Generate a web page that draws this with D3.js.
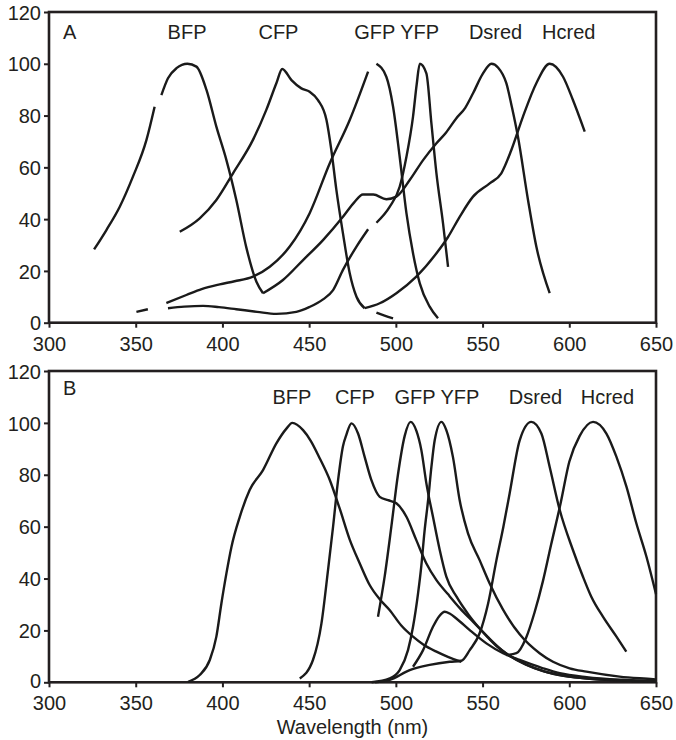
<!DOCTYPE html>
<html>
<head>
<meta charset="utf-8">
<script src="https://cdn.jsdelivr.net/npm/d3@7"></script>
<style>
  body { margin: 0; background: #fff; }
  svg text { font-family: "Liberation Sans", Arial, Helvetica, sans-serif; font-size: 20px; fill: #231f20; }
</style>
</head>
<body>
<div id="chart"></div>
<script>
// Panel A (excitation) - [wavelength nm, relative %], null = gap in trace
const bfpA = [[326,28.3],[333.1,35.8],[340.8,44.8],[348.4,56.4],[356.2,70.6],[360.9,83.4], null,
  [364.8,87.9],[368.6,94.4],[373.5,98.3],[379.8,100],[385,98.9],[390.8,89.9],[396.5,75.7],[402.3,62.8],
  [408,47.4],[413.8,29],[419.6,15.8],[423.4,11.4]];
const cfpA = [[375.4,35.1],[386.9,40.3],[396.5,47.4],[406.1,57.7],[417.6,70.6],[425.3,82.2],[431.1,92.5],
  [434.5,98],[439.8,93.7],[445.5,90.5],[450.3,89.2],[455.1,86],[460,78.3],[462.8,66.7],[465.7,51.3],
  [469.5,34.5],[473.4,19.1],[477.3,10],[482,5.6], null, [488.8,3.9],[493.5,2.7],[498.4,1.7]];
const gfpA = [[367.7,7.6],[379.2,10.7],[388,13],[398.4,14.8],[407,16],[417.6,17.8],[427.3,21.6],
  [438.8,29.4],[450.3,42.3],[461.9,61.6],[473.4,78.3],[484,97], null,
  [488.8,100],[494.5,95],[498.4,83.4],[502.2,64.1],[506.1,42.3],[509.9,26.8],[513.8,15.2],[519.5,6.2],[524.3,1.7]];
const yfpA = [[350.4,4.2],[357,5.2], null,
  [368.6,5.6],[378,6.2],[388.8,6.5],[398,6],[408,5.2],[420,4.2],[431.1,3.4],[442.6,4.2],[450,6],
  [458,9],[463.8,12.6],[469.5,20.4],[477.3,29.4],[484,36.1], null,
  [488.8,38.6],[496.5,44.8],[502.2,52.5],[506.1,64.1],[509.9,79.6],[512,92],[513.8,100],[517.6,96.3],
  [520.5,77],[523.4,57.7],[527.2,38.4],[530.1,21.6]];
const dsredA = [[423.4,11.4],[434.9,16.5],[446.5,24.2],[458,31.9],[469.5,40.9],[476,46.5],[481,49.5],
  [487,49.5],[494.5,47.7],[500.3,48.7],[508,55.1],[515.7,62.8],[523.4,69.3],[529,73.5],[534.9,79],
  [540,83],[544.5,88.6],[550,96],[555.1,100],[559,98.5],[563.7,92.5],[567,83],[570.4,71.8],
  [576.2,47.4],[581,29.4],[588.7,11.4]];
const hcredA = [[482,5.6],[490.7,7.5],[500.3,11.4],[511.8,17.8],[523.4,26.8],[530,33],[536.8,40.9],
  [544.5,48.7],[554.1,53.8],[560.8,57.7],[566.6,66.7],[573.3,79.6],[581,92.5],[588.7,100],[596.4,95],
  [602.1,86],[608.9,73.8]];

// Panel B (emission)
const bfpB = [[380.2,0.2],[386.9,2.8],[392.7,8.6],[396.5,17.6],[399.4,30.4],[402.3,42],[405.2,52.2],
  [410,63.8],[415.7,74.1],[423.4,81.8],[431.1,92.1],[436.9,97.8],[440.3,100],[446.5,97.2],[451,93],
  [456,86.5],[461.9,78],[467.6,67],[473.4,55],[479.2,45.8],[484.9,37.5],[490.7,32],[496.5,27.8],
  [503,22],[509.9,17.6],[516,14.5],[523.4,11.8],[530,9.8],[537.8,7.9]];
const cfpB = [[444.6,1.5],[452.2,8.6],[457.1,22.7],[460.9,43.3],[463.8,60],[466.7,78],[469.5,91],
  [471.5,95.5],[474.4,99.8],[478.2,95.9],[482,86.9],[485.9,77.9],[490.7,71.5],[495.5,70.2],[500.3,69],
  [506.1,63.8],[511.8,54.8],[517.6,45.8],[523.4,39.4],[530,34],[537,28.5],[545,23],[553,17.5],
  [561,12.5],[570,8.5],[580,5.5],[590,3.4],[600,2.2],[615,1.2],[632,0.7],[650,0.4]];
const gfpB = [[489.7,25.3],[493.6,41],[497.4,60],[501.2,80],[505.1,95],[508.5,100.4],[511.8,97],
  [514.7,89.5],[517.6,76.7],[521.4,63.8],[525.3,51],[529.1,40.7],[535,33],[542,26],[550,19.5],
  [558,14],[566,10],[575,6.8],[585,4.3],[597,2.5],[612,1.3],[630,0.7],[650,0.3]];
const yfpB = [[486,0],[496.5,1.5],[502.2,4.7],[507,12.4],[509.9,21.4],[512.8,34.3],[514.7,45],
  [516.5,58],[518.6,70.2],[520.5,83],[522.4,93.3],[526.3,100.4],[529.1,97.2],[532.9,86.9],[536.8,70.2],
  [541.6,57.4],[548.3,47.1],[554.1,38.1],[561.8,28],[571.4,18.5],[582.9,11.2],[590.6,7.9],[600.2,5.4],
  [609.9,4.1],[629,2.2],[648.3,1.2],[650,1.1]];
const humpB = [[509.9,6],[515.7,12.4],[521.4,21.4],[525,25.5],[528.2,27.2],[531,26.5],[534.9,24.6],
  [542.6,20.1],[552.2,15],[561.8,11.2],[571.4,8.6],[584.8,5.4],[594.5,3.5],[610,2],[630,1],[650,0.5]];
const dsredB = [[488,0],[496.5,0.9],[508,4.7],[519.5,6.7],[531.1,7.9],[537.8,8.3],[542.6,12.4],
  [548.3,18.9],[553.2,30.4],[558,47.1],[562,60],[565.6,72.8],[571.4,93.3],[578.1,100.4],[583.9,95.9],
  [588.7,83],[594.5,66.4],[602.1,51],[607.9,40.7],[612.7,33],[619.4,25.3],[627.2,17.6],[632.9,11.8]];
const hcredB = [[563.7,10.5],[569.5,11.2],[575,17],[580,27],[584.8,39],[589.5,53],[595,69],[600,85],
  [606,95],[613.7,100.4],[621.4,95.9],[627.2,86.9],[633,75.3],[638.7,61.2],[644.5,48.4],[650,34]];

const xTicks = [300, 350, 400, 450, 500, 550, 600, 650];
const yTicks = [0, 20, 40, 60, 80, 100, 120];
const names = ["BFP", "CFP", "GFP YFP", "Dsred", "Hcred"];

const width = 676, height = 740;
const svg = d3.select("#chart").append("svg")
  .attr("width", width)
  .attr("height", height);

const x = d3.scaleLinear().domain([300, 650]).range([49, 656]);

function drawPanel(opts) {
  const y = d3.scaleLinear().domain([0, 120]).range([opts.bottom, opts.top]);
  const g = svg.append("g");

  // y axis
  g.append("g")
    .attr("transform", `translate(${x(300)},0)`)
    .call(d3.axisLeft(y).tickValues(yTicks).tickSize(5).tickPadding(3))
    .call(a => a.select(".domain").remove())
    .call(a => a.selectAll("line").attr("stroke", "#231f20").attr("stroke-width", 2))
    .call(a => a.selectAll("text").attr("dy", d => d === 0 ? opts.zeroDy : "0.36em"));

  // x axis
  g.append("g")
    .attr("transform", `translate(0,${opts.bottom})`)
    .call(d3.axisBottom(x).tickValues(xTicks).tickSize(5).tickPadding(opts.xPad))
    .call(a => a.select(".domain").remove())
    .call(a => a.selectAll("line").attr("stroke", "#231f20").attr("stroke-width", 2));

  g.selectAll(".tick text")
    .attr("font-size", null)
    .attr("font-family", null)
    .attr("fill", null);

  // frame
  g.append("rect")
    .attr("x", x(300))
    .attr("y", opts.top)
    .attr("width", x(650) - x(300))
    .attr("height", opts.bottom - opts.top)
    .attr("fill", "none")
    .attr("stroke", "#231f20")
    .attr("stroke-width", 2.6);

  const line = d3.line()
    .defined(d => d !== null)
    .x(d => x(d[0]))
    .y(d => y(d[1]))
    .curve(d3.curveMonotoneX);

  g.selectAll(".trace")
    .data(opts.series)
    .enter().append("path")
    .attr("class", "trace")
    .attr("d", line)
    .attr("fill", "none")
    .attr("stroke", "#1a1a1a")
    .attr("stroke-width", 2.4)
    .attr("stroke-linejoin", "round");

  // panel letter
  g.append("text")
    .attr("x", x(300) + 14)
    .attr("y", opts.top + opts.labelDy)
    .text(opts.letter);

  // fluorophore names, centred over given wavelengths
  g.selectAll(".name")
    .data(names)
    .enter().append("text")
    .attr("class", "name")
    .attr("text-anchor", "middle")
    .attr("x", (d, i) => x(opts.nameAt[i]))
    .attr("y", opts.top + opts.nameDy)
    .text(d => d);
}

drawPanel({
  top: 12, bottom: 322.7, xPad: 9, zeroDy: "0.36em", letter: "A", labelDy: 27, nameDy: 27,
  nameAt: [379.6, 432.3, 500.5, 557.5, 599.7],
  series: [bfpA, cfpA, gfpA, yfpA, dsredA, hcredA]
});

drawPanel({
  top: 371, bottom: 682.3, xPad: 8.5, zeroDy: "0.24em", letter: "B", labelDy: 24, nameDy: 33,
  nameAt: [440.1, 476.4, 523.7, 580.5, 622],
  series: [bfpB, cfpB, gfpB, yfpB, humpB, dsredB, hcredB]
});

// x axis title
svg.append("text")
  .attr("text-anchor", "middle")
  .attr("x", (x(300) + x(650)) / 2)
  .attr("y", 734)
  .text("Wavelength (nm)");
</script>
</body>
</html>
